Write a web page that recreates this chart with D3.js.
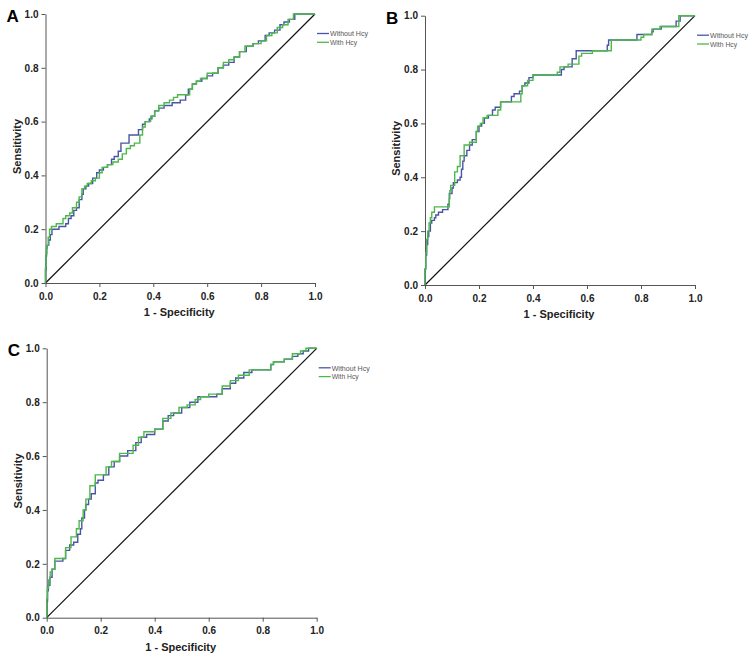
<!DOCTYPE html>
<html><head><meta charset="utf-8">
<script src="https://cdn.jsdelivr.net/npm/d3@7"></script>
<style>body{margin:0;background:#fff}svg{display:block}</style>
</head><body>
<svg id="chart" width="753" height="657"></svg>
<script>
const ticks = [0, 0.2, 0.4, 0.6, 0.8, 1.0];
const seriesNames = ["Without Hcy", "With Hcy"];
const panelLabels = ["A", "B", "C"];

const aWithout = [[0,0],[0.002,0.05],[0.004,0.1],[0.006,0.13],[0.012,0.14],[0.018,0.16],[0.024,0.18],[0.03,0.2],[0.05,0.2],[0.06,0.21],[0.075,0.21],[0.085,0.22],[0.095,0.24],[0.105,0.25],[0.115,0.27],[0.125,0.28],[0.135,0.31],[0.14,0.33],[0.15,0.35],[0.16,0.36],[0.175,0.37],[0.19,0.39],[0.2,0.41],[0.215,0.42],[0.23,0.43],[0.245,0.44],[0.255,0.46],[0.27,0.47],[0.28,0.49],[0.29,0.52],[0.31,0.52],[0.32,0.55],[0.345,0.55],[0.36,0.57],[0.37,0.59],[0.385,0.6],[0.395,0.61],[0.405,0.62],[0.42,0.64],[0.44,0.65],[0.47,0.66],[0.5,0.67],[0.52,0.68],[0.53,0.7],[0.545,0.72],[0.56,0.74],[0.58,0.75],[0.6,0.76],[0.62,0.77],[0.64,0.78],[0.66,0.8],[0.68,0.81],[0.7,0.82],[0.72,0.84],[0.745,0.86],[0.77,0.88],[0.79,0.89],[0.815,0.9],[0.83,0.92],[0.85,0.93],[0.87,0.94],[0.885,0.96],[0.905,0.97],[0.925,0.98],[0.94,1.0],[1,1]];
const aWith = [[0,0],[0.002,0.06],[0.005,0.11],[0.01,0.14],[0.015,0.17],[0.022,0.2],[0.04,0.21],[0.05,0.22],[0.065,0.22],[0.075,0.24],[0.09,0.25],[0.1,0.26],[0.115,0.28],[0.125,0.3],[0.135,0.32],[0.145,0.35],[0.155,0.36],[0.17,0.37],[0.185,0.38],[0.2,0.39],[0.21,0.41],[0.23,0.43],[0.25,0.44],[0.27,0.45],[0.285,0.46],[0.3,0.48],[0.315,0.5],[0.33,0.51],[0.35,0.52],[0.36,0.55],[0.37,0.58],[0.39,0.6],[0.405,0.62],[0.42,0.64],[0.44,0.66],[0.46,0.67],[0.475,0.68],[0.49,0.69],[0.5,0.7],[0.535,0.7],[0.545,0.72],[0.56,0.74],[0.575,0.75],[0.6,0.76],[0.615,0.78],[0.64,0.78],[0.66,0.8],[0.68,0.82],[0.7,0.83],[0.72,0.84],[0.74,0.86],[0.77,0.88],[0.8,0.89],[0.82,0.9],[0.84,0.92],[0.86,0.93],[0.88,0.95],[0.9,0.96],[0.92,0.98],[0.935,1.0],[1,1]];

const bWithout = [[0,0],[0.003,0.06],[0.006,0.11],[0.01,0.15],[0.014,0.18],[0.02,0.2],[0.025,0.23],[0.035,0.24],[0.04,0.25],[0.05,0.26],[0.065,0.27],[0.085,0.28],[0.09,0.3],[0.1,0.34],[0.105,0.36],[0.12,0.38],[0.13,0.39],[0.135,0.4],[0.14,0.43],[0.145,0.46],[0.155,0.48],[0.165,0.5],[0.175,0.52],[0.19,0.54],[0.2,0.57],[0.21,0.59],[0.22,0.6],[0.235,0.62],[0.25,0.63],[0.26,0.65],[0.28,0.66],[0.29,0.68],[0.32,0.68],[0.33,0.7],[0.35,0.71],[0.36,0.72],[0.37,0.74],[0.385,0.75],[0.4,0.77],[0.43,0.78],[0.505,0.78],[0.515,0.8],[0.545,0.81],[0.56,0.84],[0.575,0.87],[0.675,0.87],[0.68,0.89],[0.69,0.91],[0.785,0.91],[0.79,0.93],[0.84,0.93],[0.845,0.94],[0.875,0.95],[0.93,0.96],[0.945,0.98],[0.965,1.0],[1,1]];
const bWith = [[0,0],[0.003,0.06],[0.006,0.12],[0.01,0.17],[0.015,0.2],[0.02,0.23],[0.025,0.25],[0.035,0.27],[0.05,0.29],[0.09,0.29],[0.092,0.32],[0.095,0.35],[0.11,0.37],[0.12,0.42],[0.13,0.44],[0.145,0.48],[0.165,0.52],[0.19,0.53],[0.195,0.57],[0.205,0.59],[0.215,0.6],[0.23,0.62],[0.27,0.63],[0.28,0.65],[0.3,0.68],[0.355,0.68],[0.36,0.71],[0.38,0.74],[0.4,0.76],[0.43,0.78],[0.49,0.78],[0.5,0.79],[0.53,0.81],[0.57,0.82],[0.58,0.85],[0.62,0.86],[0.65,0.87],[0.69,0.87],[0.7,0.91],[0.8,0.91],[0.81,0.92],[0.84,0.93],[0.87,0.95],[0.94,0.96],[0.95,1.0],[1,1]];

const cWithout = [[0,0],[0.003,0.06],[0.006,0.1],[0.012,0.12],[0.02,0.15],[0.03,0.18],[0.045,0.21],[0.06,0.21],[0.07,0.22],[0.085,0.25],[0.1,0.27],[0.115,0.28],[0.125,0.31],[0.13,0.33],[0.14,0.37],[0.145,0.4],[0.155,0.42],[0.165,0.44],[0.18,0.46],[0.19,0.5],[0.21,0.51],[0.23,0.53],[0.25,0.56],[0.27,0.58],[0.3,0.6],[0.33,0.62],[0.35,0.65],[0.37,0.67],[0.4,0.68],[0.43,0.7],[0.45,0.73],[0.47,0.75],[0.5,0.76],[0.53,0.78],[0.56,0.8],[0.59,0.82],[0.63,0.82],[0.65,0.83],[0.68,0.85],[0.7,0.87],[0.73,0.89],[0.76,0.91],[0.8,0.92],[0.83,0.92],[0.84,0.94],[0.88,0.95],[0.91,0.96],[0.93,0.97],[0.95,0.98],[0.97,0.99],[1,1]];
const cWith = [[0,0],[0.003,0.07],[0.007,0.11],[0.013,0.14],[0.02,0.17],[0.03,0.18],[0.045,0.22],[0.07,0.22],[0.09,0.26],[0.11,0.3],[0.12,0.33],[0.135,0.36],[0.145,0.4],[0.16,0.44],[0.18,0.49],[0.2,0.53],[0.22,0.53],[0.24,0.56],[0.27,0.58],[0.29,0.61],[0.32,0.61],[0.34,0.64],[0.36,0.67],[0.4,0.69],[0.43,0.7],[0.46,0.74],[0.49,0.76],[0.52,0.78],[0.55,0.79],[0.57,0.81],[0.6,0.82],[0.62,0.83],[0.65,0.83],[0.68,0.86],[0.71,0.88],[0.75,0.9],[0.79,0.92],[0.83,0.92],[0.84,0.94],[0.88,0.95],[0.91,0.96],[0.94,0.98],[0.96,0.99],[1,1]];

const panelSeries = [[aWithout, aWith], [bWithout, bWith], [cWithout, cWith]];
const colors = ["#4a55a6", "#4cb84a"];

// layout (pixel frames for each panel)
const frames = [
  {x0: 45.5, x1: 315, top: 14, bottom: 283},
  {x0: 425, x1: 695, top: 15.7, bottom: 285},
  {x0: 46.7, x1: 316.7, top: 348.3, bottom: 617.7}
];

const svg = d3.select("#chart");
const font = "'Liberation Sans', Arial, sans-serif";

frames.forEach((f, i) => {
  const x = d3.scaleLinear().domain([0, 1]).range([f.x0, f.x1]);
  const y = d3.scaleLinear().domain([0, 1]).range([f.bottom, f.top]);
  const g = svg.append("g");

  const xAxis = g.append("g").attr("transform", `translate(0,${f.bottom})`)
    .call(d3.axisBottom(x).tickValues(ticks).tickFormat(d3.format(".1f")).tickSize(4).tickSizeOuter(0));
  const yAxis = g.append("g").attr("transform", `translate(${f.x0},0)`)
    .call(d3.axisLeft(y).tickValues(ticks).tickFormat(d3.format(".1f")).tickSize(4).tickSizeOuter(0));
  [xAxis, yAxis].forEach(ax => {
    ax.selectAll("path.domain").attr("stroke", "#555").attr("stroke-width", 1);
    ax.selectAll(".tick line").attr("stroke", "#555");
    ax.selectAll(".tick text").attr("font-family", font).attr("font-weight", "bold")
      .attr("font-size", 10).attr("fill", "#222");
  });
  xAxis.selectAll(".tick text").attr("dy", "0.95em");

  // diagonal reference
  g.append("line").attr("x1", x(0)).attr("y1", y(0)).attr("x2", x(1)).attr("y2", y(1))
    .attr("stroke", "#111").attr("stroke-width", 1.2);

  const line = d3.line().x(d => x(d[0])).y(d => y(d[1])).curve(d3.curveStepBefore);
  panelSeries[i].forEach((s, k) => {
    g.append("path").datum(s).attr("d", line).attr("fill", "none")
      .attr("stroke", colors[k]).attr("stroke-width", 1.4);
  });

  // axis titles
  g.append("text").attr("x", (f.x0 + f.x1) / 2 - 1).attr("y", f.bottom + 33)
    .attr("text-anchor", "middle").attr("font-family", font).attr("font-weight", "bold")
    .attr("font-size", 11).attr("fill", "#222").text("1 - Specificity");
  g.append("text").attr("transform", `translate(${f.x0 - 25},${(f.top + f.bottom) / 2 - 2}) rotate(-90)`)
    .attr("text-anchor", "middle").attr("font-family", font).attr("font-weight", "bold")
    .attr("font-size", 11).attr("fill", "#222").text("Sensitivity");

  // panel letter
  g.append("text").attr("x", f.x0 - 39).attr("y", f.top + 8)
    .attr("font-family", font).attr("font-weight", "bold").attr("font-size", 17)
    .attr("fill", "#000").text(panelLabels[i]);

  // legend
  seriesNames.forEach((name, k) => {
    const ly = f.top + 19.5 + k * 8.8;
    g.append("line").attr("x1", f.x1 + 2).attr("x2", f.x1 + 14).attr("y1", ly).attr("y2", ly)
      .attr("stroke", colors[k]).attr("stroke-width", 1.3);
    g.append("text").attr("x", f.x1 + 15).attr("y", ly + 2.8)
      .attr("font-family", font).attr("font-size", 7.6).attr("fill", "#555")
      .attr("textLength", name.length > 8 ? 38 : 27).attr("lengthAdjust", "spacingAndGlyphs")
      .text(name);
  });
});
</script>
</body></html>
